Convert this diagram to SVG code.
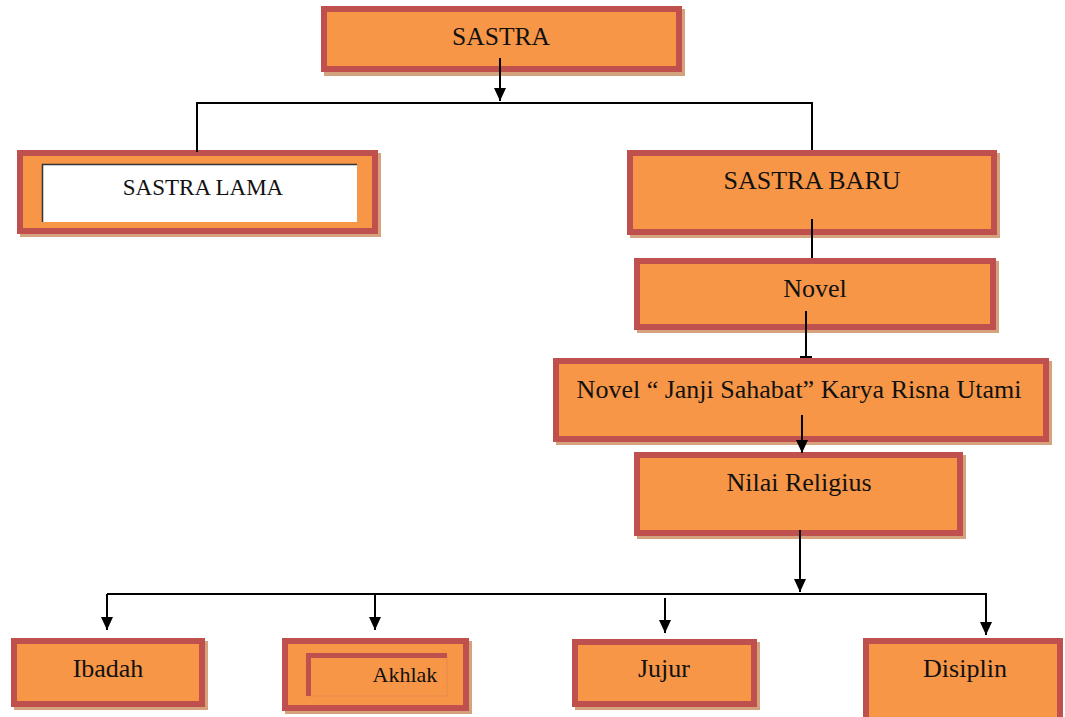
<svg xmlns="http://www.w3.org/2000/svg" width="1065" height="717" viewBox="0 0 1065 717">
<style>
.sh{fill:#D4A37E}
.bx{fill:#F79646;stroke:#C0504D;stroke-width:6}
.t{font-family:"Liberation Serif","Times New Roman",serif;font-size:26px;fill:#111;text-anchor:middle}
.ln{stroke:#000;stroke-width:2;fill:none}
</style>
<defs>
<marker id="ah2" markerWidth="13" markerHeight="12" refX="13" refY="6" orient="auto" markerUnits="userSpaceOnUse" viewBox="0 0 13 12">
<path d="M0,0 L13,6 L0,12 Z" fill="#000"/>
</marker>
</defs>
<g id="sastra">
<rect class="sh" x="324" y="9" width="361" height="67"/>
<rect class="bx" x="324" y="9" width="355" height="60"/>
<text class="t" x="501" y="45" style="font-size:25.5px">SASTRA</text>
</g>
<g id="sastra-lama">
<rect class="sh" x="20" y="153" width="361" height="84"/>
<rect class="bx" x="20" y="153" width="355" height="78"/>
<rect x="42" y="164" width="315" height="58" fill="#fff"/>
<path d="M42.5,222 V164.5 H357" fill="none" stroke="#333" stroke-width="1.5"/>
<text class="t" x="203" y="195" style="font-size:23px">SASTRA LAMA</text>
</g>
<g id="sastra-baru">
<rect class="sh" x="630" y="153" width="370" height="85"/>
<rect class="bx" x="630" y="153" width="364" height="79"/>
<text class="t" x="812" y="189">SASTRA BARU</text>
</g>
<g id="novel">
<rect class="sh" x="637" y="261" width="362" height="72"/>
<rect class="bx" x="637" y="261" width="356" height="66"/>
<text class="t" x="815" y="297">Novel</text>
</g>
<g id="novel-janji">
<rect class="sh" x="556" y="361" width="496" height="84"/>
<rect class="bx" x="556" y="361" width="490" height="78"/>
<text class="t" x="799" y="398">Novel “ Janji Sahabat” Karya Risna Utami</text>
</g>
<g id="nilai-religius">
<rect class="sh" x="637" y="455" width="329" height="84"/>
<rect class="bx" x="637" y="455" width="323" height="78"/>
<text class="t" x="799" y="491">Nilai Religius</text>
</g>
<g id="ibadah">
<rect class="sh" x="14" y="641" width="194" height="69"/>
<rect class="bx" x="14" y="641" width="188" height="63"/>
<text class="t" x="108" y="677">Ibadah</text>
</g>
<g id="akhlak">
<rect class="sh" x="285" y="641" width="187" height="73"/>
<rect class="bx" x="285" y="641" width="181" height="67"/>
<rect x="309" y="656" width="138" height="40" fill="none" stroke="#E48A4E" stroke-width="1"/>
<path d="M308.5,696 V655.5 H447" fill="none" stroke="#C0504D" stroke-width="5"/>
<text class="t" x="405" y="682" style="font-size:22px">Akhlak</text>
</g>
<g id="jujur">
<rect class="sh" x="575" y="642" width="185" height="68"/>
<rect class="bx" x="575" y="642" width="179" height="62"/>
<text class="t" x="664" y="677">Jujur</text>
</g>
<g id="disiplin">
<rect class="bx" x="866" y="641" width="194" height="84"/>
<text class="t" x="965" y="677">Disiplin</text>
</g>
<g id="connectors">
<path class="ln" d="M500,58 V101" marker-end="url(#ah2)"/>
<path class="ln" d="M197,152 V103 H812 V150"/>
<path class="ln" d="M812,219 V258"/>
<path class="ln" d="M806,311 V357 M800,357 H812"/>
<path class="ln" d="M802,415 V453" marker-end="url(#ah2)"/>
<path class="ln" d="M800,530 V592" marker-end="url(#ah2)"/>
<path class="ln" d="M107,594 H986 V635" marker-end="url(#ah2)"/>
<path class="ln" d="M107,594 V630" marker-end="url(#ah2)"/>
<path class="ln" d="M375,594 V630" marker-end="url(#ah2)"/>
<path class="ln" d="M665,598 V633" marker-end="url(#ah2)"/>
</g>
</svg>
